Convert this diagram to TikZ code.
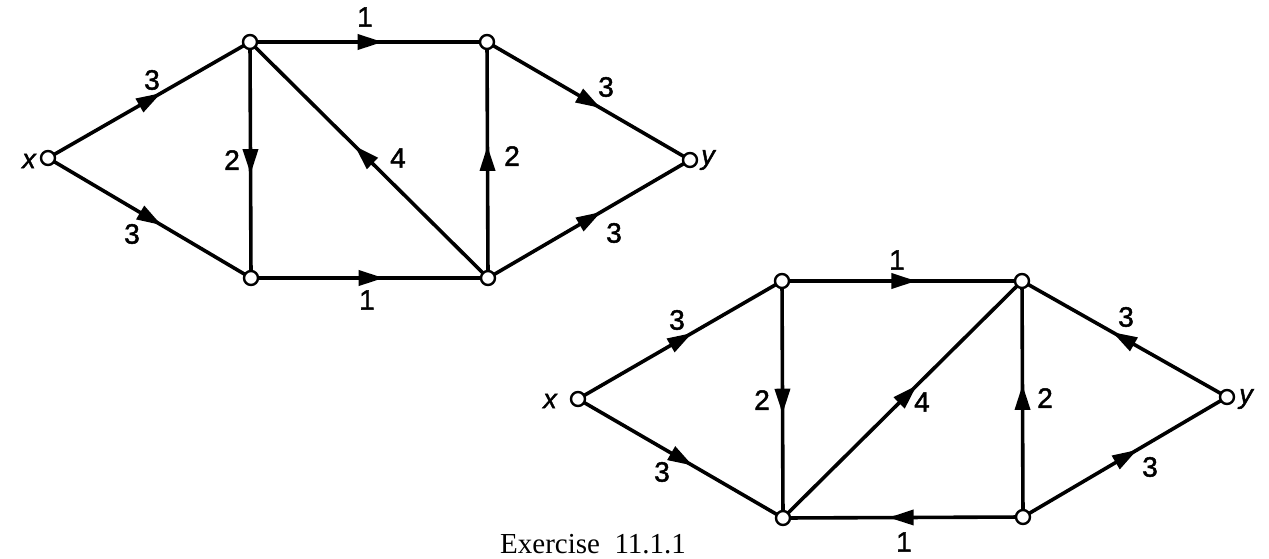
\documentclass[tikz,border=0pt]{standalone}
\usepackage{fontspec}
\setmainfont{Liberation Serif}
\setsansfont[FakeBold=1.6]{Liberation Sans}
\usetikzlibrary{arrows.meta,decorations.markings}
\begin{document}
\begin{tikzpicture}[x=1pt,y=-1pt,
  vtx/.style={circle,draw,fill=white,line width=2.4pt,inner sep=0pt,minimum size=14pt},
  edge/.style={line width=3.6pt,postaction={decorate},decoration={markings,
      mark=at position 0.56 with {\arrow{Triangle[length=25pt,width=15pt]}}}},
  lbl/.style={inner sep=0pt,font=\sffamily\fontsize{28}{28}\selectfont},
  vlbl/.style={inner sep=0pt,font=\sffamily\itshape\fontsize{27}{27}\selectfont}]
\useasboundingbox (0,0) rectangle (1269,558);
% ---------- graph 1 ----------
\coordinate (x1p) at (48,158);
\coordinate (a1p) at (250,42);
\coordinate (b1p) at (487,42);
\coordinate (y1p) at (690,160);
\coordinate (c1p) at (251,278);
\coordinate (d1p) at (488,278);
\draw[edge] (x1p) -- (a1p);
\draw[edge] (x1p) -- (c1p);
\draw[edge] (a1p) -- (b1p);
\draw[edge] (a1p) -- (c1p);
\draw[edge] (d1p) -- (a1p);
\draw[edge] (d1p) -- (b1p);
\draw[edge] (b1p) -- (y1p);
\draw[edge] (d1p) -- (y1p);
\draw[edge] (c1p) -- (d1p);
\node[vtx] (x1) at (x1p) {};
\node[vtx] (a1) at (a1p) {};
\node[vtx] (b1) at (b1p) {};
\node[vtx] (y1) at (y1p) {};
\node[vtx] (c1) at (c1p) {};
\node[vtx] (d1) at (d1p) {};
\node[vlbl] (lx1) at (29,161) {x};
\node[vlbl] (ly1) at (708,160) {y};
\node[lbl] (l1a) at (152,80) {3};
\node[lbl] (l1b) at (132,234) {3};
\node[lbl] (l1c) at (232,160) {2};
\node[lbl] (l1d) at (365,17) {1};
\node[lbl] (l1e) at (398,158) {4};
\node[lbl] (l1f) at (512,156) {2};
\node[lbl] (l1g) at (606,87) {3};
\node[lbl] (l1h) at (614,233) {3};
\node[lbl] (l1i) at (367,300) {1};
% ---------- graph 2 ----------
\coordinate (x2p) at (578,399);
\coordinate (a2p) at (782,281);
\coordinate (b2p) at (1022,281);
\coordinate (y2p) at (1227,397);
\coordinate (c2p) at (783,518);
\coordinate (d2p) at (1023,517);
\draw[edge] (x2p) -- (a2p);
\draw[edge] (x2p) -- (c2p);
\draw[edge] (a2p) -- (b2p);
\draw[edge] (a2p) -- (c2p);
\draw[edge] (c2p) -- (b2p);
\draw[edge] (d2p) -- (b2p);
\draw[edge] (y2p) -- (b2p);
\draw[edge] (d2p) -- (y2p);
\draw[edge] (d2p) -- (c2p);
\node[vtx] (x2) at (x2p) {};
\node[vtx] (a2) at (a2p) {};
\node[vtx] (b2) at (b2p) {};
\node[vtx] (y2) at (y2p) {};
\node[vtx] (c2) at (c2p) {};
\node[vtx] (d2) at (d2p) {};
\node[vlbl] (lx2) at (550,401) {x};
\node[vlbl] (ly2) at (1246,399) {y};
\node[lbl] (l2a) at (677,320) {3};
\node[lbl] (l2b) at (662,472) {3};
\node[lbl] (l2c) at (762,400) {2};
\node[lbl] (l2d) at (897,260) {1};
\node[lbl] (l2e) at (922,402) {4};
\node[lbl] (l2f) at (1045,398) {2};
\node[lbl] (l2g) at (1126,317) {3};
\node[lbl] (l2h) at (1150,467) {3};
\node[lbl] (l2i) at (904,542) {1};
% caption
\node[anchor=base west,inner sep=0pt,font=\fontsize{29}{29}\selectfont] (cap) at (500,553) {Exercise\ \ 11.1.1};
\end{tikzpicture}
\end{document}
